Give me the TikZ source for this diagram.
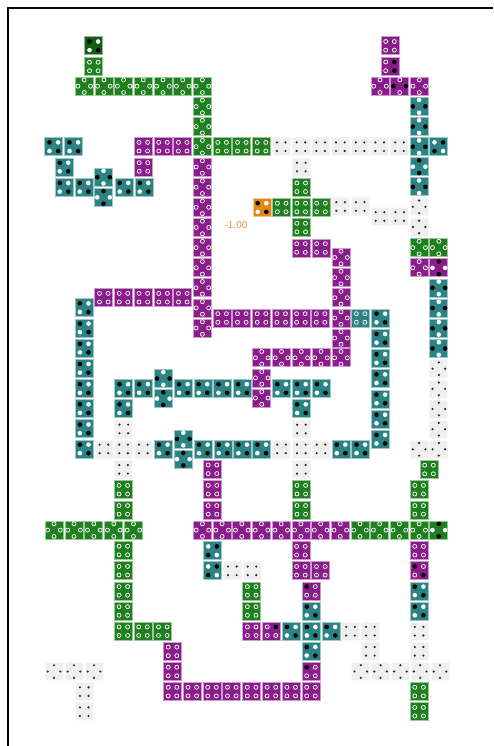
\documentclass[tikz,border=0pt]{standalone}
\usepackage{fontspec}
\setmainfont{Liberation Sans}
\definecolor{cG}{HTML}{1F801F}
\definecolor{cGd}{HTML}{115E11}
\definecolor{cP}{HTML}{8B1C8B}
\definecolor{cT}{HTML}{2B8383}
\definecolor{cE}{HTML}{EFEFEF}
\definecolor{cO}{HTML}{E0881C}
\newcommand\xbox[1]{\filldraw[fill=#1, draw=#1!45!white, line width=0.7pt] (-9,-9) rectangle (9,9);}
\newcommand\ddr[2]{\draw[white, line width=0.75pt, fill=tc] (#1,#2) circle (2.0pt);}
\newcommand\ddk[2]{\fill[black] (#1,#2) circle (2.3pt);}
\newcommand\ddw[2]{\fill[white] (#1,#2) circle (2.3pt);}
\newcommand\ddg[2]{\fill[black!85] (#1,#2) circle (1.2pt);}
\newcommand\tS[7]{\begin{scope}[shift={(#1,#2)}]\colorlet{tc}{#3}\xbox{#3}%
 \csname dd#4\endcsname{-4.3}{-4.3}\csname dd#5\endcsname{4.3}{-4.3}%
 \csname dd#6\endcsname{-4.3}{4.3}\csname dd#7\endcsname{4.3}{4.3}\end{scope}}
\newcommand\tD[7]{\begin{scope}[shift={(#1,#2)}]\colorlet{tc}{#3}\xbox{#3}%
 \csname dd#4\endcsname{0}{-6.3}\csname dd#5\endcsname{6.3}{0}%
 \csname dd#6\endcsname{0}{6.3}\csname dd#7\endcsname{-6.3}{0}\end{scope}}
\newcommand\xGS[2]{\tS{#1}{#2}{cG}{r}{r}{r}{r}}
\newcommand\xGD[2]{\tD{#1}{#2}{cG}{r}{r}{r}{r}}
\newcommand\xPS[2]{\tS{#1}{#2}{cP}{r}{r}{r}{r}}
\newcommand\xPD[2]{\tD{#1}{#2}{cP}{r}{r}{r}{r}}
\newcommand\xTS[2]{\tS{#1}{#2}{cT}{k}{w}{w}{k}}
\newcommand\xTSb[2]{\tS{#1}{#2}{cT}{w}{k}{k}{w}}
\newcommand\xTD[2]{\tD{#1}{#2}{cT}{w}{k}{w}{k}}
\newcommand\xTDb[2]{\tD{#1}{#2}{cT}{k}{w}{k}{w}}
\newcommand\xES[2]{\tS{#1}{#2}{cE}{g}{g}{g}{g}}
\newcommand\xED[2]{\tD{#1}{#2}{cE}{g}{g}{g}{g}}
\begin{document}
\begin{tikzpicture}[x=1pt,y=-1pt]
\useasboundingbox (0,0) rectangle (493,746);
\fill[white] (0,0) rectangle (493,746);
\draw[line width=2pt] (8,746) -- (8,8) -- (493,8);
% top-left green
\tS{93.8}{45.8}{cGd}{k}{w}{w}{k}
\xGS{93.8}{66.5}
\foreach \x in {84.2,103.9,123.6,143.3,163,182.7,202.4} {\xGD{\x}{86.2}}
\foreach \y in {106.5,126.6,146.7} {\xGD{202.4}{\y}}
% row 146.7
\xTS{53.8}{146.7} \xTS{73.8}{146.7}
\foreach \x in {143.3,163,182.7} {\xPS{\x}{146.7}}
\foreach \x in {222.1,241.8,261.5} {\xGS{\x}{146.7}}
\foreach \x in {281.2,300.9,320.6,340.3,360,379.7,399.4} {\xES{\x}{146.7}}
\xTD{419.1}{146.7}
\xTSb{438.8}{146.7}
% left teal cluster
\xTS{64}{167}
\foreach \x in {64,84,124,144} {\xTS{\x}{187.3}}
\xTD{103.5}{177.2} \xTDb{103.5}{197.4}
\xPS{143.5}{167}
% purple column and rows
\foreach \y in {167,187.2,207.3,227.5,247.6,267.8,287.8,307.9,328} {\xPD{202.4}{\y}}
\foreach \x in {103.8,123.5,143.3,163.1,182.8} {\xPS{\x}{297.7}}
\foreach \x in {222.1,241.8,261.5,281.2,300.9,320.6} {\xPS{\x}{318}}
\xPD{341}{318}
\tS{360.6}{318}{cT}{r}{r}{r}{r}
\xTS{380.8}{318}
\foreach \y in {257.5,277.6,297.7,338,357.8} {\xPD{341}{\y}}
\xPS{301}{248} \xPS{321}{248}
% green cross with orange
\xES{301.2}{167}
\xGS{301.2}{187.3}
\tS{262}{207.5}{cO}{k}{w}{w}{k}
\foreach \x in {281.7,301.2,321} {\xGS{\x}{207.5}}
\xGS{301.2}{227.6}
\xES{340.6}{206.5} \xES{360.2}{206.5}
\xES{380}{216.5} \xES{399.7}{216.5}
\node[text=cO!90!white, font=\fontsize{10}{12}\selectfont, inner sep=0pt] (lbl) at (236,225) {-1.00};
% right top
\xPS{390}{45.8} \tS{390}{66.3}{cP}{r}{k}{r}{k}
\xPD{380}{86.2} \tD{399.7}{86.2}{cP}{r}{k}{r}{k} \xPD{419.3}{86.2}
\foreach \y in {106.4,126.6} {\xTD{419.1}{\y}}
\xTDb{419.1}{166.7} \xTD{419.1}{186.8}
\xED{419.1}{206.8} \xED{419.1}{227}
\xGD{419.1}{247.6} \xGD{438.8}{247.6}
\xPD{419.1}{267.8} \tD{438.8}{267.8}{cP}{k}{w}{k}{w}
\foreach \y in {287.9,308.1,328.3,348.5} {\xTD{438.8}{\y}}
\foreach \y in {368.7,388.9,409,429.2,449.3} {\xED{438.8}{\y}}
\xED{419.1}{449.3}
\xGS{429}{469.5}
% left teal column
\foreach \y in {307.7,327.9,348.1,368.3,388.5,408.6,428.8,448.9} {\xTS{84.2}{\y}}
% teal row 388.5
\foreach \x in {123.8,143.5,183.3,203,222.8,242.5,281.7,301.4,321.2} {\xTS{\x}{388.5}}
\xTD{163.3}{378.5} \xTDb{163.3}{398.6}
\foreach \x in {261.7,281.5,301.3,321} {\xPD{\x}{357.8}}
\xPD{261.7}{377.9} \xPD{261.7}{398}
\xTS{123.8}{408.7} \xES{123.8}{428.9}
\xTS{301.4}{408.7} \xES{301.4}{429}
% row 448.9
\foreach \x in {103.9,123.6,143.3} {\xES{\x}{448.9}}
\foreach \x in {163.3,203.3,223,242.7,261.7,341,360.8} {\xTS{\x}{448.9}}
\xTD{183.3}{439} \xTDb{183.3}{459.2}
\foreach \x in {281.5,301.3,321} {\xES{\x}{448.9}}
\foreach \y in {338.3,358.5,378.7,398.9,419,439.2} {\xTS{380.8}{\y}}
\xES{123.6}{469.3} \xES{301.3}{469.3}
\foreach \y in {469.3,489.7,509.9} {\xPS{212.5}{\y}}
\foreach \y in {489.7,509.9} {\xGS{123.3}{\y} \xGS{301.3}{\y} \xGS{419.1}{\y}}
% row 530.1
\foreach \x in {54,74,93.8,113.8,133.5} {\xGD{\x}{530.1}}
\foreach \x in {202.4,222.1,241.8,261.5,281.2,300.9,320.6,340.3} {\xPD{\x}{530.1}}
\foreach \x in {360,379.7,399.4,419.1} {\xGD{\x}{530.1}}
\tD{438.8}{530.1}{cG}{k}{w}{k}{w}
% lower left
\foreach \y in {550.5,570.7,590.9,611,631.2} {\xGS{123.3}{\y}}
\xGS{143}{631.2} \xGS{162.8}{631.2}
\xPS{172.5}{651.4} \xPS{172.5}{671.5}
\foreach \x in {172.5,192.3,212,231.8,251.6,271.4,291.2,311} {\xPS{\x}{691.6}}
\xTSb{212.5}{550.7} \xTSb{212.5}{570.8}
\xES{232.3}{570.8} \xES{252}{570.8}
\xGS{251.7}{590.9} \xGS{251.7}{611}
\xPS{251.7}{631.2} \tS{271.5}{631.2}{cP}{r}{k}{r}{r}
\foreach \x in {291.3,311.1,330.9} {\xTS{\x}{631.2}}
\xES{350.5}{631.2} \xES{370.3}{631.2} \xES{370.3}{651.3}
\foreach \x in {360.8,380.6,400.4,420.2,440} {\xED{\x}{671.5}}
\tS{311}{590.9}{cP}{k}{r}{r}{r}
\xTS{311}{611} \xTS{311}{651.3}
\tS{311}{671.5}{cP}{k}{r}{r}{r}
\xPS{300.9}{550.7} \xPS{300.9}{570.8} \xPS{320.8}{570.8}
\xPS{419.1}{550.7} \tS{419.1}{570.8}{cP}{k}{r}{r}{k}
\xTS{419.1}{590.9} \xTS{419.1}{611}
\xES{419.1}{631.2} \xES{419.1}{651.3}
\xGS{419.1}{691.6} \xGS{419.1}{711.7}
\foreach \x in {54,74,94} {\xED{\x}{671.5}}
\xES{84.2}{691.6} \xES{84.2}{711.7}
\end{tikzpicture}
\end{document}
